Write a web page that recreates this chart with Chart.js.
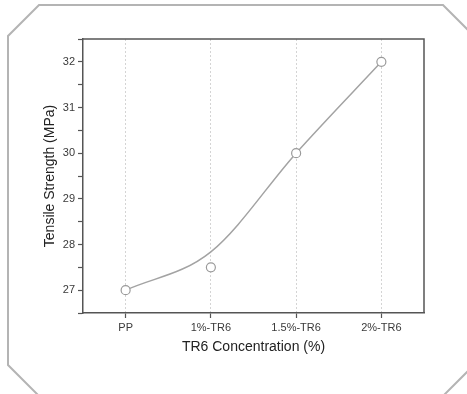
<!DOCTYPE html>
<html>
<head>
<meta charset="utf-8">
<script src="https://cdn.jsdelivr.net/npm/chart.js"></script>
<style>
  html, body { margin: 0; padding: 0; background: #ffffff; }
  #chart { display: block; }
</style>
</head>
<body>
<canvas id="chart" width="467" height="394"></canvas>
<script>
// ============================================
// Tensile strength vs TR6 concentration
// ============================================

// categories on the x axis
var categories = ['PP', '1%-TR6', '1.5%-TR6', '2%-TR6'];
// measured values (open circles)
var measured = [27, 27.5, 30, 32];
// smooth fitted curve at each category
var fitted = [27, 27.84, 30, 32];
// y axis range and major tick step
var yMin = 26.5;
var yMax = 32.5;
var yStep = 0.5;

var FONT = "'Liberation Sans', Arial, sans-serif";
var AXIS = '#555555';

// --------------------------------------------------
//  Octagon frame + plot box
// --------------------------------------------------
var framePlugin = {
    id: 'frame',
    beforeDraw: function (chart) {
        var c = chart.ctx;
        c.save();
        c.fillStyle = '#ffffff';
        c.fillRect(0, 0, chart.width, chart.height);
        c.strokeStyle = '#b4b4b4';
        c.lineWidth = 2;
        c.beginPath();
        c.moveTo(39, 5);
        c.lineTo(443, 5);
        c.lineTo(474, 36);
        c.lineTo(474, 365);
        c.lineTo(443, 396);
        c.lineTo(39, 396);
        c.lineTo(8, 365);
        c.lineTo(8, 36);
        c.closePath();
        c.stroke();
        c.restore();
    },
    afterDraw: function (chart) {
        var a = chart.chartArea;
        var c = chart.ctx;
        c.save();
        c.strokeStyle = AXIS;
        c.lineWidth = 1.5;
        c.beginPath();
        c.moveTo(a.left, a.top);
        c.lineTo(a.right, a.top);
        c.lineTo(a.right, a.bottom);
        c.stroke();
        c.restore();
    }
};

var chart = new Chart(document.getElementById('chart').getContext('2d'), {
    type: 'line',
    data: {
        labels: categories,
        datasets: [
            {
                label: 'Measured',
                data: measured,
                showLine: false,
                pointStyle: 'circle',
                pointRadius: 4.5,
                pointBorderWidth: 1.2,
                pointBorderColor: '#9a9a9a',
                pointBackgroundColor: '#ffffff',
                order: 0
            },
            {
                label: 'Fit',
                data: fitted,
                borderColor: '#a3a3a3',
                borderWidth: 1.5,
                cubicInterpolationMode: 'monotone',
                pointRadius: 0,
                fill: false,
                order: 1
            }
        ]
    },
    options: {
        responsive: false,
        animation: false,
        devicePixelRatio: 1,
        layout: { padding: { top: 39, right: 43, left: 0, bottom: 0 } },
        plugins: {
            legend: { display: false },
            tooltip: { enabled: false }
        },
        scales: {
            x: {
                type: 'category',
                offset: true,
                afterFit: function (s) { s.height = 81; },
                border: { display: true, color: AXIS, width: 1.5, dash: [2, 2] },
                grid: {
                    offset: false,
                    color: '#d4d4d4',
                    lineWidth: 1,
                    tickColor: AXIS,
                    tickLength: 5,
                    tickWidth: 1.2,
                    tickBorderDash: []
                },
                ticks: {
                    color: '#3a3a3a',
                    padding: 3,
                    maxRotation: 0,
                    font: { family: FONT, size: 11 }
                },
                title: {
                    display: true,
                    text: 'TR6 Concentration (%)',
                    color: '#222222',
                    padding: { top: 0, bottom: 38 },
                    font: { family: FONT, size: 14 }
                }
            },
            y: {
                min: yMin,
                max: yMax,
                afterFit: function (s) { s.width = 83; },
                border: { display: true, color: AXIS, width: 1.5 },
                grid: {
                    drawOnChartArea: false,
                    color: AXIS,
                    tickColor: AXIS,
                    tickLength: 5,
                    tickWidth: 1.2
                },
                ticks: {
                    stepSize: yStep,
                    color: '#3a3a3a',
                    padding: 3,
                    font: { family: FONT, size: 11 },
                    callback: function (v) {
                        return Number.isInteger(v) ? String(v) : '';
                    }
                },
                title: {
                    display: true,
                    text: 'Tensile Strength (MPa)',
                    color: '#222222',
                    padding: { top: 42, bottom: 0 },
                    font: { family: FONT, size: 14 }
                }
            }
        }
    },
    plugins: [framePlugin]
});
</script>
</body>
</html>
